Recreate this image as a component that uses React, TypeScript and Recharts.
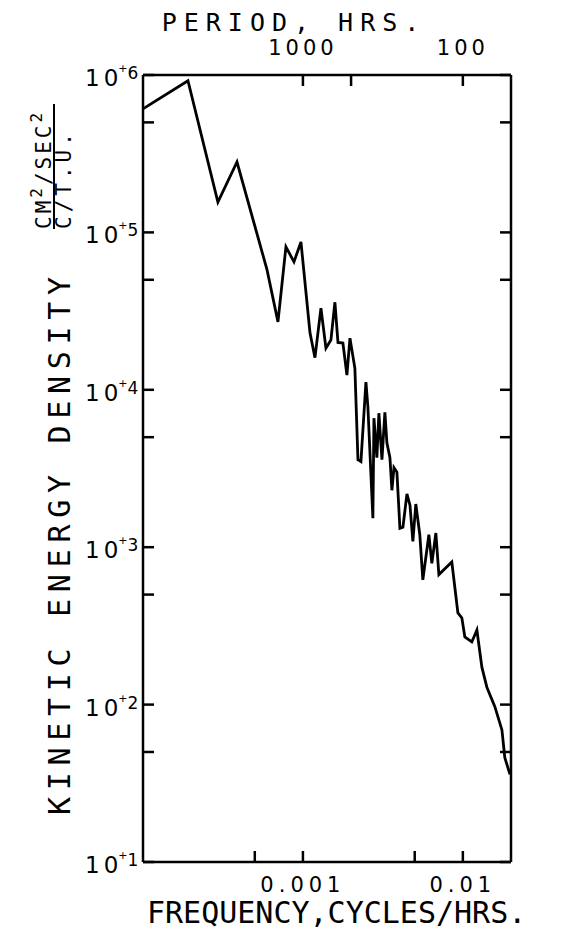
import React from 'react';
import { LineChart, Line, XAxis, YAxis } from 'recharts';

// frequency, cycles/hr
const freqs = [
  1.0e-4, 1.91e-4, 2.94e-4, 3.87e-4, 5.96e-4, 6.98e-4, 7.83e-4, 8.79e-4, 9.72e-4,
  1.107e-3, 1.189e-3, 1.296e-3, 1.393e-3, 1.496e-3, 1.585e-3, 1.656e-3, 1.778e-3,
  1.884e-3, 1.968e-3, 2.113e-3, 2.208e-3, 2.305e-3, 2.477e-3, 2.548e-3, 2.738e-3,
  2.78e-3, 2.9e-3, 2.985e-3, 3.12e-3, 3.255e-3, 3.35e-3, 3.5e-3, 3.6e-3, 3.71e-3,
  3.87e-3, 4.04e-3, 4.22e-3, 4.47e-3, 4.67e-3, 4.87e-3, 5.08e-3, 5.38e-3, 5.62e-3,
  6.13e-3, 6.4e-3, 6.78e-3, 7.08e-3, 8.53e-3, 9.31e-3, 9.86e-3, 1.029e-2, 1.138e-2,
  1.224e-2, 1.315e-2, 1.413e-2, 1.585e-2, 1.755e-2, 1.83e-2, 1.97e-2,
];

// kinetic energy density, (cm2/sec2)/(c/t.u.)
const energies = [
  6.1e5, 9.2e5, 1.56e5, 2.8e5, 5.8e4, 2.7e4, 8.1e4, 6.5e4, 8.7e4,
  2.3e4, 1.6e4, 3.3e4, 1.84e4, 2.07e4, 3.6e4, 2.0e4, 1.98e4,
  1.24e4, 2.13e4, 1.37e4, 3.6e3, 3.5e3, 1.12e4, 7.8e3, 1.53e3,
  6.6e3, 3.7e3, 7.1e3, 3.6e3, 7.2e3, 4.6e3, 3.7e3, 2.3e3, 3.2e3,
  3.0e3, 1.32e3, 1.34e3, 2.18e3, 1.85e3, 1.09e3, 1.88e3, 1.2e3, 620,
  1.2e3, 790, 1.23e3, 670, 805, 382, 355, 269, 250,
  298, 173, 129, 97, 69, 46, 36,
];

const freqTicks = [5e-4, 1e-3, 5e-3, 1e-2];
const freqTickLabels = ['', '0.001', '', '0.01'];
const periodTicks = [1000, 500, 100];
const periodTickLabels = ['1000', '', '100'];
const energyTicks = [10, 50, 100, 500, 1e3, 5e3, 1e4, 5e4, 1e5, 5e5, 1e6];

const data = freqs.map((f, i) => ({ f, e: energies[i] }));

const MONO = '"DejaVu Sans Mono", monospace';
const SANS = '"DejaVu Sans", sans-serif';
const TL = 11;

// plot frame
const L = 143;
const R = 511;
const T = 75;
const B = 862;

const isDecade = (v: number) => Math.abs(Math.log10(v) - Math.round(Math.log10(v))) < 1e-6;

const LeftTick = (props: any) => {
  const { y, payload } = props;
  const v = payload.value;
  const x = L;
  return (
    <g>
      <line x1={x} x2={x + TL} y1={y} y2={y} stroke="#000" strokeWidth={2.5} />
      {isDecade(v) && (
        <text x={x - 58} y={y + 11} fontSize={23} fontFamily={SANS} fill="#000">
          1<tspan dx={4}>0</tspan>
          <tspan dy={-14} fontSize={11}>+</tspan>
          <tspan dy={7} fontSize={17}>{Math.round(Math.log10(v))}</tspan>
        </text>
      )}
    </g>
  );
};

const RightTick = (props: any) => {
  const { y } = props;
  return <line x1={R - TL} x2={R} y1={y} y2={y} stroke="#000" strokeWidth={2.5} />;
};

const BottomTick = (props: any) => {
  const { x, payload } = props;
  const y = B;
  const label = freqTickLabels[freqTicks.indexOf(payload.value)] || '';
  return (
    <g>
      <line x1={x} x2={x} y1={y - TL} y2={y} stroke="#000" strokeWidth={2.5} />
      {label && (
        <text x={x} y={y + 30} fontSize={21} fontFamily={SANS} letterSpacing={5} textAnchor="middle" fill="#000">
          {label}
        </text>
      )}
    </g>
  );
};

const TopTick = (props: any) => {
  const { x, payload } = props;
  const y = T;
  const p = Math.round(1 / payload.value);
  const label = periodTickLabels[periodTicks.indexOf(p)] || '';
  return (
    <g>
      <line x1={x} x2={x} y1={y} y2={y + TL} stroke="#000" strokeWidth={2.5} />
      {label && (
        <text x={x} y={y - 20} fontSize={21} fontFamily={SANS} letterSpacing={4} textAnchor="middle" fill="#000">
          {label}
        </text>
      )}
    </g>
  );
};

const axisLine = { stroke: '#000', strokeWidth: 2.5 };

export default function App() {
  return (
    <div style={{ position: 'absolute', left: 0, top: 0, width: 583, height: 935, background: '#fff' }}>
      <LineChart
        width={583}
        height={935}
        data={data}
        margin={{ top: T - 30, right: 583 - R - 30, bottom: 935 - B - 30, left: L - 60 }}
      >
        <XAxis
          xAxisId="bottom"
          dataKey="f"
          type="number"
          scale="log"
          domain={[1e-4, 2e-2]}
          allowDataOverflow
          ticks={freqTicks}
          orientation="bottom"
          height={30}
          tickLine={false}
          axisLine={axisLine}
          tick={<BottomTick />}
          interval={0}
        />
        <XAxis
          xAxisId="top"
          dataKey="f"
          type="number"
          scale="log"
          domain={[1e-4, 2e-2]}
          allowDataOverflow
          ticks={periodTicks.map((p) => 1 / p)}
          orientation="top"
          height={30}
          tickLine={false}
          axisLine={axisLine}
          tick={<TopTick />}
          interval={0}
        />
        <YAxis
          yAxisId="left"
          type="number"
          scale="log"
          domain={[10, 1e6]}
          allowDataOverflow
          ticks={energyTicks}
          orientation="left"
          width={60}
          tickLine={false}
          axisLine={axisLine}
          tick={<LeftTick />}
          interval={0}
        />
        <YAxis
          yAxisId="right"
          type="number"
          scale="log"
          domain={[10, 1e6]}
          allowDataOverflow
          ticks={energyTicks}
          orientation="right"
          width={30}
          tickLine={false}
          axisLine={axisLine}
          tick={<RightTick />}
          interval={0}
        />
        <Line
          xAxisId="top"
          yAxisId="right"
          dataKey="e"
          stroke="none"
          dot={false}
          isAnimationActive={false}
        />
        <Line
          xAxisId="bottom"
          yAxisId="left"
          dataKey="e"
          type="linear"
          stroke="#000"
          strokeWidth={2.8}
          strokeLinejoin="miter"
          dot={false}
          isAnimationActive={false}
        />
      </LineChart>
      <svg width={583} height={935} style={{ position: 'absolute', left: 0, top: 0, pointerEvents: 'none' }}>
        <g fill="#000" fontFamily={MONO}>
          <text x={294} y={31} fontSize={25} letterSpacing={7} textAnchor="middle">PERIOD, HRS.</text>
          <text x={147} y={923} fontSize={30} textAnchor="start">FREQUENCY,CYCLES/HRS.</text>
          <text transform="translate(70,815) rotate(-90)" fontSize={30} letterSpacing={6.7} textAnchor="start">
            KINETIC ENERGY DENSITY
          </text>
          <text transform="translate(51,229) rotate(-90)" fontSize={21} letterSpacing={3} textAnchor="start">
            CM<tspan dy={-9} fontSize={16}>2</tspan>
            <tspan dy={9}>/SEC</tspan>
            <tspan dy={-9} fontSize={16}>2</tspan>
          </text>
          <line x1={54} x2={54} y1={229} y2={104} stroke="#000" strokeWidth={2} />
          <text transform="translate(71,229) rotate(-90)" fontSize={21} letterSpacing={4} textAnchor="start">
            C/T.U.
          </text>
        </g>
      </svg>
    </div>
  );
}
